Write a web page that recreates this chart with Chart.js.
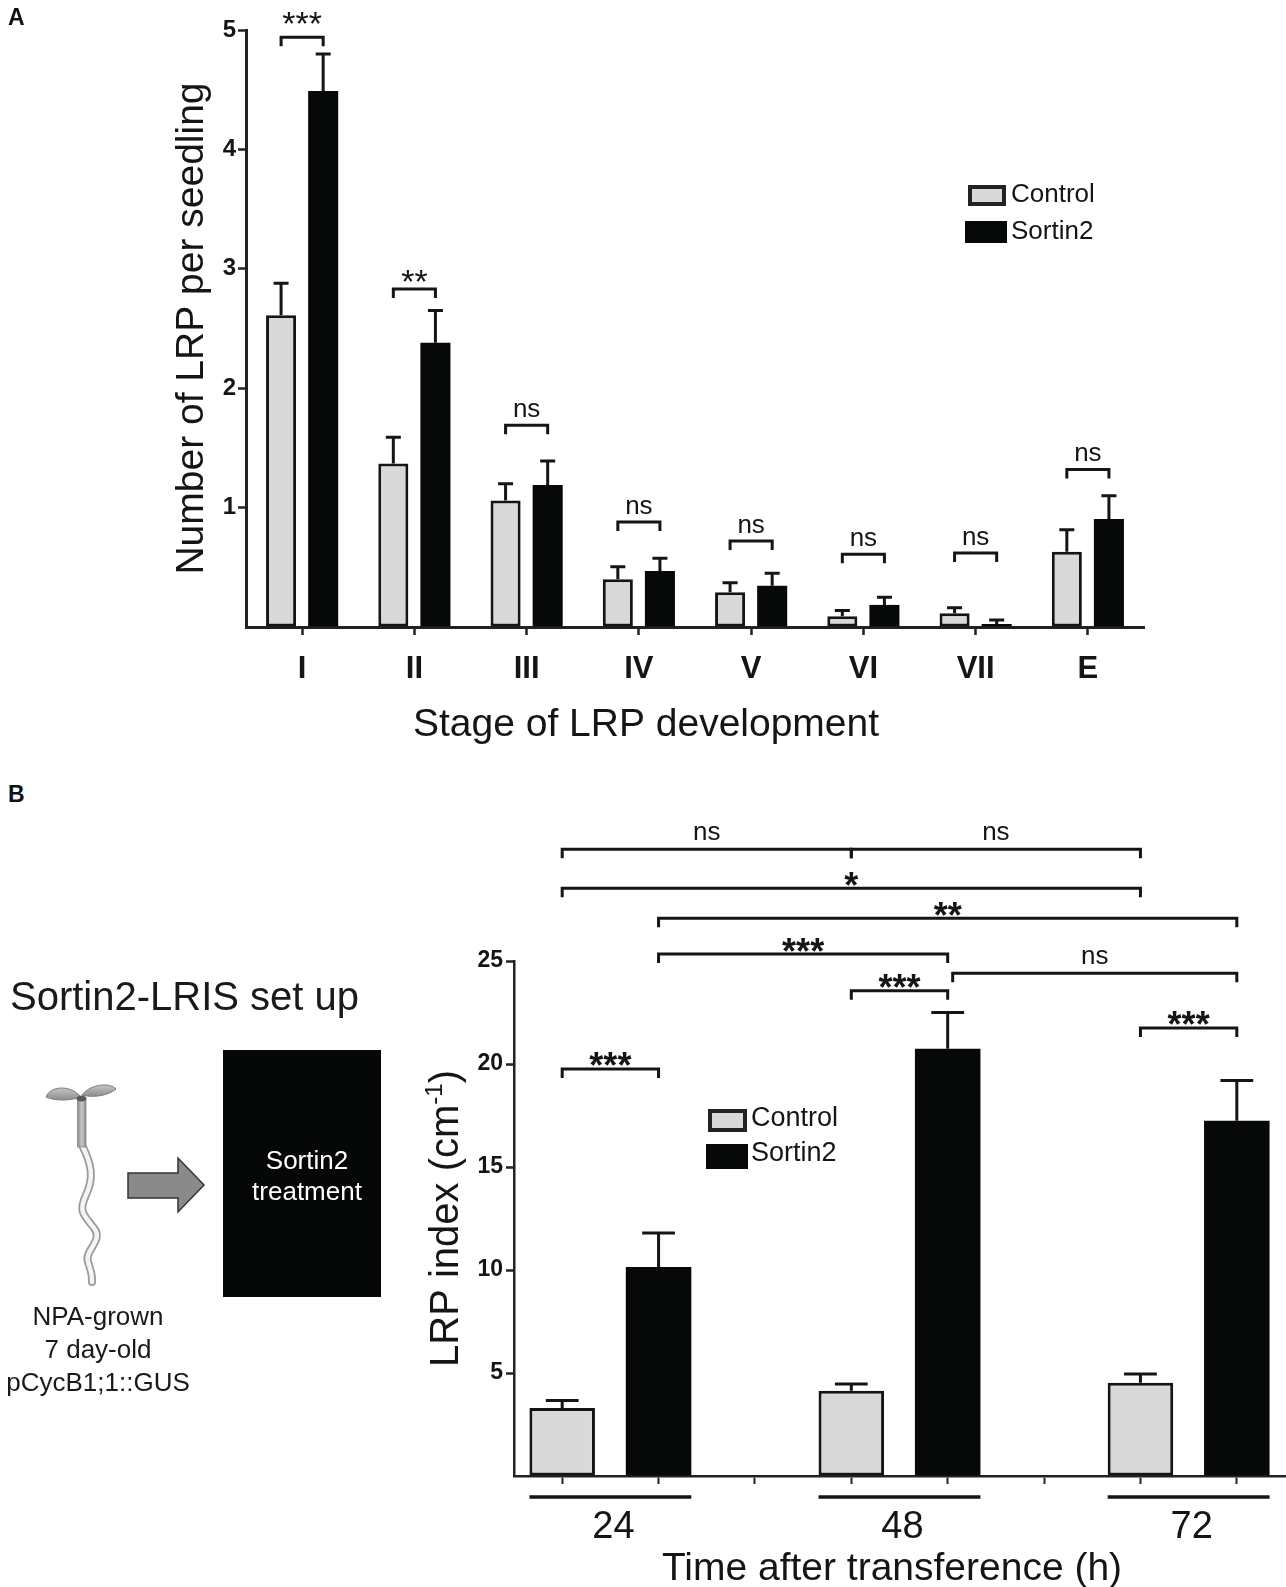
<!DOCTYPE html>
<html>
<head>
<meta charset="utf-8">
<script src="https://cdn.jsdelivr.net/npm/chart.js@4.4.1/dist/chart.umd.min.js"></script>
<style>
  body { margin:0; width:1286px; height:1587px; overflow:hidden; background:#fff; position:relative;
         font-family:"Liberation Sans", Arial, sans-serif; }
  canvas, svg, .panel { position:absolute; }
  .panel { font-weight:bold; font-size:23px; color:#111; line-height:23px; }
</style>
</head>
<body>
<canvas id="chartA" width="1286" height="745" style="left:0;top:0"></canvas>
<canvas id="chartB" width="920" height="787" style="left:380px;top:800px"></canvas>

<!-- set-up drawing, panel B left -->
<svg width="400" height="470" viewBox="0 940 400 470" style="left:0;top:940px">
  <defs>
    <linearGradient id="leaf" x1="0" y1="0" x2="0" y2="1">
      <stop offset="0" stop-color="#c4c4c4"/>
      <stop offset="1" stop-color="#8e8e8e"/>
    </linearGradient>
    <linearGradient id="stem" x1="0" y1="0" x2="1" y2="0">
      <stop offset="0" stop-color="#8a8a8a"/>
      <stop offset="0.5" stop-color="#c8c8c8"/>
      <stop offset="1" stop-color="#8a8a8a"/>
    </linearGradient>
  </defs>
  <text x="10" y="1010" font-size="40" fill="#1a1a1a">Sortin2-LRIS set up</text>
  <path d="M46 1097 C 50 1086, 70 1084, 81 1097 C 70 1101, 55 1101, 46 1097 Z" fill="url(#leaf)" stroke="#7a7a7a" stroke-width="1"/>
  <path d="M82 1095 C 90 1084, 110 1082, 116 1089 C 108 1096, 92 1098, 82 1095 Z" fill="url(#leaf)" stroke="#7a7a7a" stroke-width="1"/>
  <path d="M82 1145 C 92 1165, 94 1178, 86 1195 S 84 1215, 94 1228 S 84 1250, 88 1262 S 92 1276, 92 1282"
        fill="none" stroke="#9a9a9a" stroke-width="8" stroke-linecap="round"/>
  <path d="M82 1145 C 92 1165, 94 1178, 86 1195 S 84 1215, 94 1228 S 84 1250, 88 1262 S 92 1276, 92 1282"
        fill="none" stroke="#f4f4f4" stroke-width="4.5" stroke-linecap="round"/>
  <rect x="77.5" y="1099" width="8.5" height="48" fill="url(#stem)" stroke="#888" stroke-width="0.8"/>
  <ellipse cx="81.5" cy="1098.5" rx="5" ry="3" fill="#5a5a5a"/>
  <polygon points="128,1173 178,1173 178,1158 204,1185 178,1212 178,1198 128,1198"
           fill="#8a8a8a" stroke="#333" stroke-width="1.5"/>
  <rect x="223" y="1050" width="158" height="247" fill="#060808"/>
  <text x="307" y="1169" font-size="26" fill="#fff" text-anchor="middle">Sortin2</text>
  <text x="307" y="1200" font-size="26" fill="#fff" text-anchor="middle">treatment</text>
  <text x="98" y="1325" font-size="26" fill="#1a1a1a" text-anchor="middle">NPA-grown</text>
  <text x="98" y="1358" font-size="26" fill="#1a1a1a" text-anchor="middle">7 day-old</text>
  <text x="98" y="1391" font-size="26" fill="#1a1a1a" text-anchor="middle">pCycB1;1::GUS</text>
</svg>

<div class="panel" style="left:8px;top:6px">A</div>
<div class="panel" style="left:8px;top:783px">B</div>

<script>
// ---- panel A: LRP per seedling by stage ----
const stages = ['I', 'II', 'III', 'IV', 'V', 'VI', 'VII', 'E'];
const controlA    = [2.61, 1.37, 1.06, 0.40, 0.29, 0.09, 0.115, 0.63];
const controlAErr = [0.27, 0.22, 0.14, 0.105, 0.08, 0.048, 0.047, 0.185];
const sortinA     = [4.49, 2.38, 1.19, 0.47, 0.345, 0.185, 0.025, 0.905];
const sortinAErr  = [0.31, 0.27, 0.20, 0.106, 0.105, 0.065, 0.034, 0.195];
const sigA        = ['***', '**', 'ns', 'ns', 'ns', 'ns', 'ns', 'ns'];
const sigALevel   = [4.94, 2.83, 1.69, 0.88, 0.72, 0.61, 0.62, 1.32];

// ---- panel B: LRP index over time ----
const times       = ['24', '48', '72'];
const controlB    = [3.30, 4.14, 4.53];
const controlBErr = [0.36, 0.33, 0.42];
const sortinB     = [10.15, 20.74, 17.24];
const sortinBErr  = [1.65, 1.76, 1.96];
// pairwise tests: [from, to, label, bracket level in y units]
const compB = [
  ['Control 24', 'Sortin2 24', '***', 19.76],
  ['Control 48', 'Sortin2 48', '***', 23.55],
  ['Control 72', 'Sortin2 72', '***', 21.75],
  ['Sortin2 24', 'Sortin2 48', '***', 25.34],
  ['Sortin2 48', 'Sortin2 72', 'ns', 24.4],
  ['Sortin2 24', 'Sortin2 72', '**', 27.07],
  ['Control 24', 'Control 72', '*', 28.53],
  ['Control 24', 'Control 48', 'ns', 30.42],
  ['Control 48', 'Control 72', 'ns', 30.42]
];

const GRAY = '#d9d9d9', BLACK = '#070909', INK = '#151515';
const FONT = '"Liberation Sans", Arial, sans-serif';
Chart.defaults.font.family = FONT;
Chart.defaults.color = INK;

// 8 slots on the B axis: control, sortin2, gap, ...
const slotLabels = [], slotControl = [], slotSortin = [], slotCtrlErr = [], slotSortErr = [];
times.forEach((t, i) => {
  if (i > 0) {
    slotLabels.push('gap ' + i);
    slotControl.push(null); slotSortin.push(null); slotCtrlErr.push(null); slotSortErr.push(null);
  }
  slotLabels.push('Control ' + t);
  slotControl.push(controlB[i]); slotSortin.push(null); slotCtrlErr.push(controlBErr[i]); slotSortErr.push(null);
  slotLabels.push('Sortin2 ' + t);
  slotControl.push(null); slotSortin.push(sortinB[i]); slotCtrlErr.push(null); slotSortErr.push(sortinBErr[i]);
});

function drawText(ctx, text, x, y, font, align) {
  ctx.font = font;
  ctx.textAlign = align || 'center';
  ctx.fillText(text, x, y);
}

// error bars, brackets, legend, titles
function makeMarks(cfg) {
  return {
    id: 'marks',
    afterDatasetsDraw(chart) {
      const ctx = chart.ctx, yS = chart.scales.y;
      ctx.save();
      ctx.strokeStyle = INK;
      ctx.lineWidth = cfg.lw;
      chart.data.datasets.forEach((ds, di) => {
        chart.getDatasetMeta(di).data.forEach((bar, i) => {
          if (ds.data[i] == null) return;
          const top = yS.getPixelForValue(ds.data[i] + ds.errors[i]);
          const cap = bar.width / 4;
          ctx.beginPath();
          ctx.moveTo(bar.x, bar.y); ctx.lineTo(bar.x, top);
          ctx.moveTo(bar.x - cap, top); ctx.lineTo(bar.x + cap, top);
          ctx.stroke();
        });
      });
      ctx.restore();
    },
    afterDraw(chart) {
      const ctx = chart.ctx, yS = chart.scales.y;
      ctx.save();
      ctx.fillStyle = INK; ctx.strokeStyle = INK; ctx.lineWidth = cfg.lw;
      ctx.textBaseline = 'alphabetic';
      cfg.brackets(chart).forEach(b => {
        const y = yS.getPixelForValue(b.level);
        ctx.beginPath();
        ctx.moveTo(b.x1, y + cfg.drop); ctx.lineTo(b.x1, y);
        ctx.lineTo(b.x2, y); ctx.lineTo(b.x2, y + cfg.drop);
        ctx.stroke();
        const stars = b.label !== 'ns';
        const fs = stars ? cfg.starSize : cfg.nsSize;
        const cy = y - (b.lift || (stars ? cfg.starLift : cfg.nsLift));
        drawText(ctx, b.label, (b.x1 + b.x2) / 2, cy + (stars ? 0.57 : 0.26) * fs,
                 (stars ? cfg.starWeight + ' ' : '') + fs + 'px ' + FONT);
      });
      // legend
      const L = cfg.legend;
      chart.data.datasets.forEach((ds, di) => {
        const bx = L.boxes[di];
        if (di === 0) {
          ctx.fillStyle = ds.backgroundColor; ctx.fillRect(bx[0], bx[1], bx[2], bx[3]);
          ctx.lineWidth = 4; ctx.strokeStyle = '#222'; ctx.strokeRect(bx[0], bx[1], bx[2], bx[3]);
        } else {
          ctx.fillStyle = ds.backgroundColor; ctx.fillRect(bx[0], bx[1], bx[2], bx[3]);
        }
        ctx.fillStyle = INK; ctx.textBaseline = 'middle';
        drawText(ctx, ds.label, L.textX, L.textY[di], L.size + 'px ' + FONT, 'left');
      });
      ctx.textBaseline = 'alphabetic';
      if (cfg.extra) cfg.extra(chart, ctx);
      ctx.restore();
    }
  };
}

function axisCommon(lineW) {
  return {
    border: { display: true, color: '#222', width: lineW },
    grid: {
      display: true, drawOnChartArea: false, drawTicks: true, tickLength: 8, tickWidth: 2.5,
      tickColor: c => (c.tick && c.tick.value === 0 && c.scale.axis === 'y') ? 'rgba(0,0,0,0)' : '#222'
    }
  };
}

// ---------------- chart A ----------------
const marksA = makeMarks({
  lw: 3, drop: 9, starSize: 34, nsSize: 26, starWeight: 'normal', starLift: 15, nsLift: 15,
  brackets(chart) {
    const m0 = chart.getDatasetMeta(0).data, m1 = chart.getDatasetMeta(1).data;
    return stages.map((s, i) => ({
      x1: m0[i].x, x2: m1[i].x, level: sigALevel[i], label: sigA[i], lift: i === 0 ? 22 : 0
    }));
  },
  legend: { boxes: [[970, 187, 34, 17], [965, 221, 42, 22]], textX: 1011, textY: [195, 232], size: 26 },
  extra(chart, ctx) {
    const a = chart.chartArea;
    ctx.fillStyle = INK;
    drawText(ctx, 'Stage of LRP development', 646, 736, '39px ' + FONT);
    ctx.save();
    ctx.translate(203, (a.top + a.bottom) / 2);
    ctx.rotate(-Math.PI / 2);
    drawText(ctx, 'Number of LRP per seedling', 0, 0, '39px ' + FONT);
    ctx.restore();
  }
});

new Chart(document.getElementById('chartA'), {
  type: 'bar',
  data: {
    labels: stages,
    datasets: [
      { label: 'Control', data: controlA, errors: controlAErr, backgroundColor: GRAY,
        borderColor: INK, borderWidth: 3, borderSkipped: false },
      { label: 'Sortin2', data: sortinA, errors: sortinAErr, backgroundColor: BLACK,
        borderColor: BLACK, borderWidth: 0 }
    ]
  },
  options: {
    responsive: false, animation: false, devicePixelRatio: 1,
    categoryPercentage: 0.75, barPercentage: 0.714,
    layout: { padding: { left: 0, top: 30, right: 142, bottom: 0 } },
    plugins: { legend: { display: false }, tooltip: { enabled: false } },
    scales: {
      x: Object.assign(axisCommon(3), {
        grid: Object.assign(axisCommon(3).grid, { offset: false }),
        ticks: { font: { size: 31, weight: 'bold' }, color: INK, padding: 16 },
        afterFit(s) { s.height = 118; }
      }),
      y: Object.assign(axisCommon(3), {
        min: 0, max: 5,
        ticks: { stepSize: 1, font: { size: 24, weight: 'bold' }, color: INK, padding: 2,
                 callback: v => v === 0 ? '' : v },
        afterFit(s) { s.width = 246; }
      })
    }
  },
  plugins: [marksA]
});

// ---------------- chart B ----------------
const marksB = makeMarks({
  lw: 3, drop: 9, starSize: 36, nsSize: 26, starWeight: 'bold', starLift: 11, nsLift: 16,
  brackets(chart) {
    const x = chart.scales.x;
    return compB.map(c => ({
      x1: x.getPixelForValue(slotLabels.indexOf(c[0])) + (c[2] === 'ns' && c[0] === 'Sortin2 48' ? 5 : 0),
      x2: x.getPixelForValue(slotLabels.indexOf(c[1])),
      label: c[2], level: c[3]
    }));
  },
  legend: { boxes: [[330, 311, 35, 19], [326, 344, 42, 25]], textX: 371, textY: [319, 354], size: 27 },
  extra(chart, ctx) {
    const a = chart.chartArea;
    const m0 = chart.getDatasetMeta(0).data, m1 = chart.getDatasetMeta(1).data;
    ctx.fillStyle = INK; ctx.strokeStyle = INK; ctx.lineWidth = 3.5;
    times.forEach(t => {
      const c = m0[slotLabels.indexOf('Control ' + t)], s = m1[slotLabels.indexOf('Sortin2 ' + t)];
      const x1 = c.x - c.width / 2, x2 = s.x + s.width / 2;
      ctx.beginPath(); ctx.moveTo(x1, a.bottom + 21); ctx.lineTo(x2, a.bottom + 21); ctx.stroke();
      drawText(ctx, t, (c.x + s.x) / 2 + 3, a.bottom + 62, '38px ' + FONT);
    });
    drawText(ctx, 'Time after transference (h)', 512, 780, '39px ' + FONT);
    // rotated y title with superscript
    ctx.save();
    ctx.translate(78, (a.top + a.bottom) / 2);
    ctx.rotate(-Math.PI / 2);
    ctx.font = '40px ' + FONT;
    const main = 'LRP index (cm', close = ')';
    const wMain = ctx.measureText(main).width, wClose = ctx.measureText(close).width;
    ctx.font = '24px ' + FONT;
    const wSup = ctx.measureText('-1').width;
    let x0 = -(wMain + wSup + wClose) / 2;
    drawText(ctx, main, x0, 0, '40px ' + FONT, 'left');
    drawText(ctx, '-1', x0 + wMain, -16, '24px ' + FONT, 'left');
    drawText(ctx, close, x0 + wMain + wSup, 0, '40px ' + FONT, 'left');
    ctx.restore();
  }
});

new Chart(document.getElementById('chartB'), {
  type: 'bar',
  data: {
    labels: slotLabels,
    datasets: [
      { label: 'Control', data: slotControl, errors: slotCtrlErr, backgroundColor: GRAY,
        borderColor: INK, borderWidth: 3, borderSkipped: false, skipNull: true },
      { label: 'Sortin2', data: slotSortin, errors: slotSortErr, backgroundColor: BLACK,
        borderColor: BLACK, borderWidth: 0, skipNull: true }
    ]
  },
  options: {
    responsive: false, animation: false, devicePixelRatio: 1,
    categoryPercentage: 1, barPercentage: 0.68,
    layout: { padding: { left: 0, top: 161, right: 15, bottom: 0 } },
    plugins: { legend: { display: false }, tooltip: { enabled: false } },
    scales: {
      x: Object.assign(axisCommon(2.5), {
        grid: Object.assign(axisCommon(2.5).grid, { offset: false, tickWidth: 2 }),
        ticks: { display: false },
        afterFit(s) { s.height = 111; }
      }),
      y: Object.assign(axisCommon(2.5), {
        min: 0, max: 25,
        ticks: { stepSize: 5, font: { size: 23, weight: 'bold' }, color: INK, padding: 3,
                 callback: v => v === 0 ? '' : v },
        afterFit(s) { s.width = 134; }
      })
    }
  },
  plugins: [marksB]
});
</script>
</body>
</html>
